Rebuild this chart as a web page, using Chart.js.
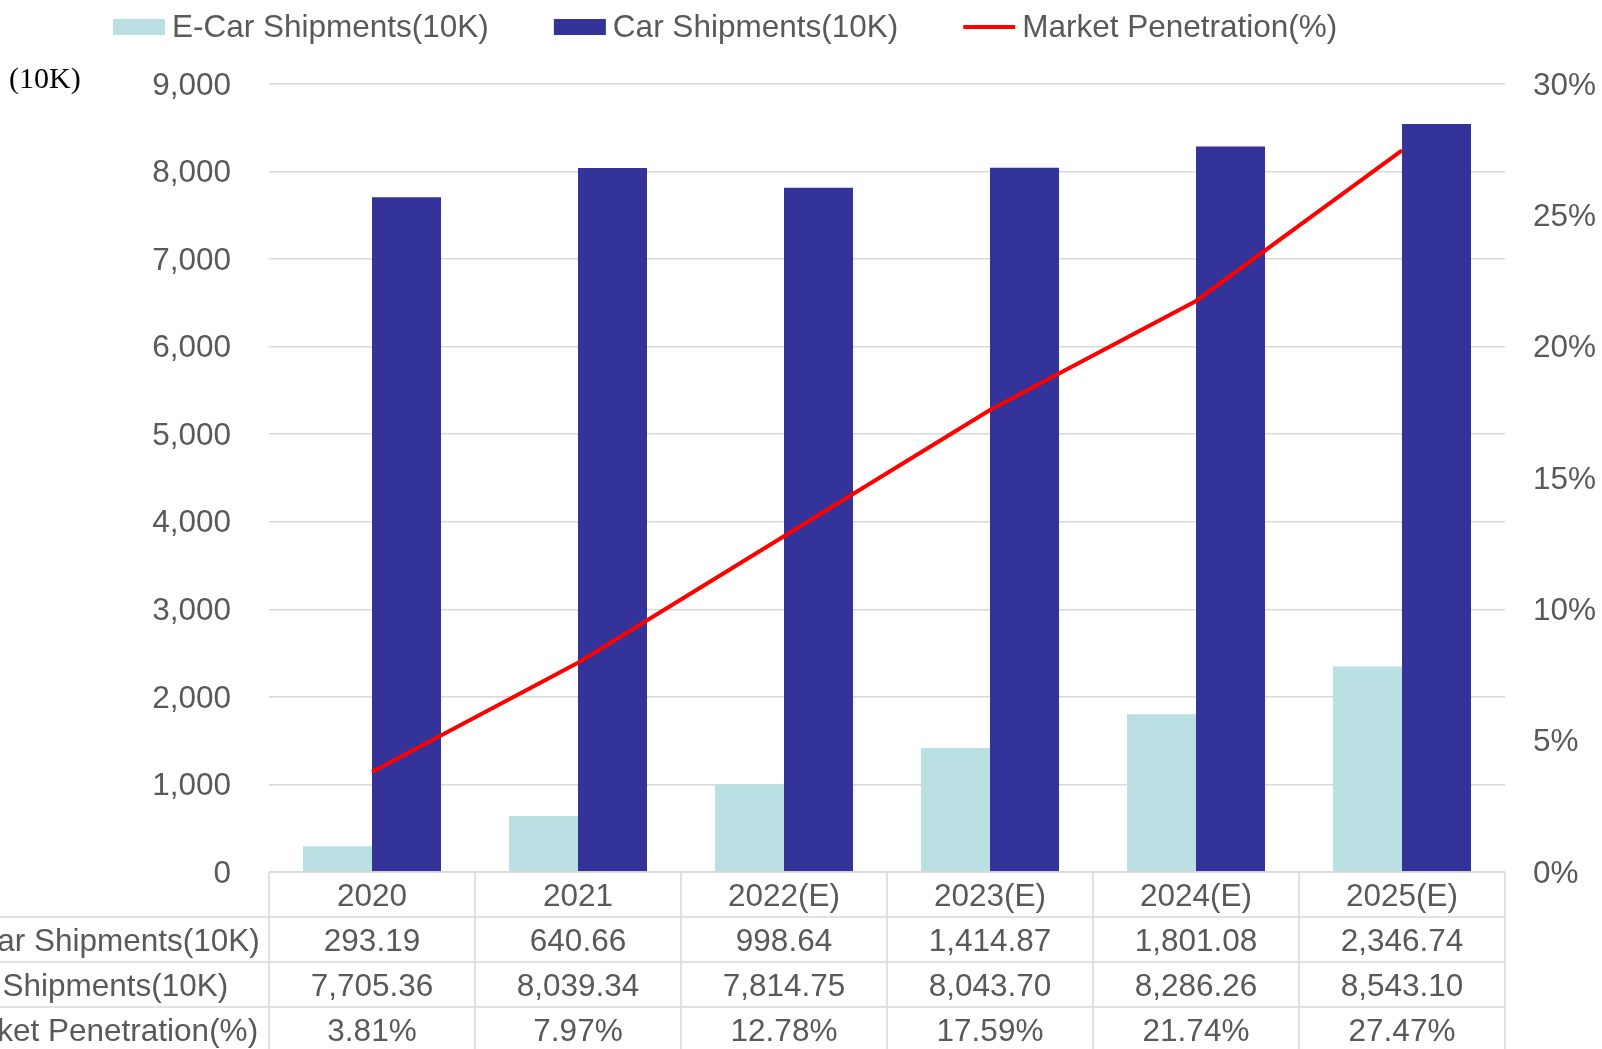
<!DOCTYPE html>
<html>
<head>
<meta charset="utf-8">
<script src="https://cdn.jsdelivr.net/npm/chart.js@4/dist/chart.umd.min.js"></script>
<style>
    html, body { margin: 0; padding: 0; background: #fff; }
    #wrap { width: 1602px; height: 1049px; }
</style>
</head>
<body>
<div id="wrap"><canvas id="chart" width="1602" height="1049"></canvas></div>
<script>
// Données
const years = ['2020', '2021', '2022(E)', '2023(E)', '2024(E)', '2025(E)'];
const eCarShipments = [293.19, 640.66, 998.64, 1414.87, 1801.08, 2346.74];
const carShipments = [7705.36, 8039.34, 7814.75, 8043.70, 8286.26, 8543.10];
const penetration = [3.81, 7.97, 12.78, 17.59, 21.74, 27.47];
const seriesNames = ['E-Car Shipments(10K)', 'Car Shipments(10K)', 'Market Penetration(%)'];

const FONT = "'Liberation Sans', Arial, sans-serif";
const TEXT = '#595959';
const GRID = '#d9d9d9';
const FS = 31.5;
const ROW_H = 45;

const fmtNum = v => v.toLocaleString('en-US', { minimumFractionDigits: 2, maximumFractionDigits: 2 });
const fmtPct = v => v.toFixed(2) + '%';

// Légende personnalisée + unité + tableau de données sous l'axe
const extrasPlugin = {
    id: 'extras',
    afterDraw(chart) {
        const { ctx, chartArea, scales } = chart;
        const xs = scales.x;
        const top = chartArea.bottom;
        const step = xs.getPixelForValue(1) - xs.getPixelForValue(0);

        ctx.save();
        // lignes du tableau
        ctx.strokeStyle = GRID;
        ctx.lineWidth = 1.5;
        ctx.beginPath();
        ctx.moveTo(chartArea.left, top);
        ctx.lineTo(chartArea.right, top);
        for (let r = 1; r <= 3; r++) {
            const y = top + r * ROW_H;
            ctx.moveTo(0, y);
            ctx.lineTo(chartArea.right, y);
        }
        for (let i = 0; i <= years.length; i++) {
            const bx = xs.getPixelForValue(Math.min(i, years.length - 1)) + (i < years.length ? -step / 2 : step / 2);
            ctx.moveTo(bx, top);
            ctx.lineTo(bx, chart.height);
        }
        ctx.stroke();

        // textes du tableau
        ctx.fillStyle = TEXT;
        ctx.font = FS + 'px ' + FONT;
        ctx.textBaseline = 'middle';
        ctx.textAlign = 'center';
        years.forEach((y, i) => ctx.fillText(y, xs.getPixelForValue(i), top + ROW_H / 2 + 3));
        const rows = [
            eCarShipments.map(fmtNum),
            carShipments.map(fmtNum),
            penetration.map(fmtPct)
        ];
        rows.forEach((vals, r) => {
            const cy = top + (r + 1.5) * ROW_H + 3;
            ctx.textAlign = 'left';
            ctx.fillText(seriesNames[r], -57, cy);
            ctx.textAlign = 'center';
            vals.forEach((v, i) => ctx.fillText(v, xs.getPixelForValue(i), cy));
        });

        // unité de l'axe gauche
        ctx.textAlign = 'left';
        ctx.font = '30px "Liberation Serif", "Times New Roman", serif';
        ctx.fillStyle = '#000';
        ctx.fillText('(10K)', 9, 80);

        // légende
        ctx.font = FS + 'px ' + FONT;
        let lx = 113;
        const ly = 27;
        chart.data.datasets.forEach(ds => {
            if (ds.type === 'line') {
                ctx.strokeStyle = ds.borderColor;
                ctx.lineWidth = ds.borderWidth;
                ctx.beginPath();
                ctx.moveTo(lx, ly);
                ctx.lineTo(lx + 52, ly);
                ctx.stroke();
            } else {
                ctx.fillStyle = ds.backgroundColor;
                ctx.fillRect(lx, ly - 8, 52, 16);
            }
            ctx.fillStyle = TEXT;
            ctx.fillText(ds.label, lx + 59, ly + 1);
            lx += 59 + ctx.measureText(ds.label).width + 65;
        });
        ctx.restore();
    }
};

new Chart(document.getElementById('chart').getContext('2d'), {
    data: {
        labels: years,
        datasets: [
            {
                type: 'bar',
                label: seriesNames[0],
                data: eCarShipments,
                yAxisID: 'y',
                backgroundColor: '#bae0e3',
                categoryPercentage: 0.67,
                barPercentage: 1.0,
                order: 1
            },
            {
                type: 'bar',
                label: seriesNames[1],
                data: carShipments,
                yAxisID: 'y',
                backgroundColor: '#343399',
                categoryPercentage: 0.67,
                barPercentage: 1.0,
                order: 1
            },
            {
                type: 'line',
                label: seriesNames[2],
                data: penetration,
                yAxisID: 'y1',
                borderColor: '#ff0000',
                borderWidth: 4,
                pointRadius: 0,
                tension: 0,
                order: 0
            }
        ]
    },
    options: {
        responsive: false,
        animation: false,
        layout: { padding: { top: 84, left: 0, right: 0, bottom: 0 } },
        plugins: { legend: { display: false }, tooltip: { enabled: false } },
        scales: {
            x: {
                grid: { display: false },
                border: { display: false },
                ticks: { display: false },
                afterFit: s => { s.height = 177; }
            },
            y: {
                position: 'left',
                min: 0, max: 9000,
                ticks: { stepSize: 1000, padding: 38, labelOffset: 2, color: TEXT, font: { family: FONT, size: FS }, callback: v => v.toLocaleString('en-US') },
                grid: { color: GRID, lineWidth: 1.5, drawTicks: false },
                border: { display: false },
                afterFit: s => { s.width = 269; }
            },
            y1: {
                position: 'right',
                min: 0, max: 30,
                ticks: { stepSize: 5, padding: 28, labelOffset: 2, color: TEXT, font: { family: FONT, size: FS }, callback: v => v + '%' },
                grid: { drawOnChartArea: false, drawTicks: false },
                border: { display: false },
                afterFit: s => { s.width = 97; }
            }
        }
    },
    plugins: [extrasPlugin]
});
</script>
</body>
</html>
